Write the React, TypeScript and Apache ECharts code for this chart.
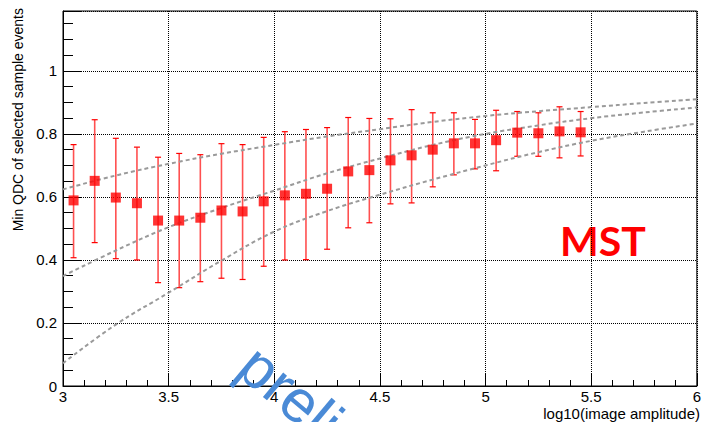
import React, { useEffect, useRef } from "react";
import * as echarts from "echarts";

const xCenters = [3.05, 3.15, 3.25, 3.35, 3.45, 3.55, 3.65, 3.75, 3.85, 3.95, 4.05, 4.15, 4.25, 4.35, 4.45, 4.55, 4.65, 4.75, 4.85, 4.95, 5.05, 5.15, 5.25, 5.35, 5.45];
const qdcValues = [0.589, 0.651, 0.598, 0.58, 0.525, 0.525, 0.534, 0.557, 0.554, 0.586, 0.605, 0.61, 0.626, 0.681, 0.685, 0.716, 0.732, 0.75, 0.77, 0.77, 0.78, 0.804, 0.802, 0.808, 0.805];
const errLow = [0.407, 0.455, 0.404, 0.4, 0.328, 0.312, 0.331, 0.342, 0.338, 0.38, 0.4, 0.401, 0.434, 0.502, 0.518, 0.578, 0.581, 0.632, 0.67, 0.689, 0.683, 0.729, 0.729, 0.724, 0.73];
const errHigh = [0.766, 0.845, 0.786, 0.758, 0.726, 0.738, 0.734, 0.769, 0.766, 0.789, 0.807, 0.814, 0.82, 0.852, 0.849, 0.848, 0.877, 0.867, 0.867, 0.846, 0.875, 0.871, 0.867, 0.886, 0.871];

const curveX = [3.0, 3.25, 3.5, 3.75, 4.0, 4.25, 4.5, 4.75, 5.0, 5.25, 5.5, 5.75, 6.0];
const upperCurve = [0.624, 0.668, 0.705, 0.737, 0.765, 0.792, 0.815, 0.838, 0.857, 0.872, 0.885, 0.898, 0.91];
const middleCurve = [0.349, 0.43, 0.504, 0.565, 0.62, 0.675, 0.722, 0.765, 0.8, 0.827, 0.85, 0.868, 0.884];
const lowerCurve = [0.072, 0.195, 0.296, 0.398, 0.49, 0.555, 0.607, 0.655, 0.7, 0.742, 0.778, 0.807, 0.833];

const yTitle = "Min QDC of selected sample events";
const xTitle = "log10(image amplitude)";
const labelText = "MST";
const watermark = "preliminary";

const FONT = "'Liberation Sans', Arial, Helvetica, sans-serif";

export default function App() {
  const ref = useRef<HTMLDivElement>(null);
  useEffect(() => {
    if (!ref.current) return;
    const chart = echarts.init(ref.current, null, { renderer: "svg" });
    const curveStyle = { color: "#9a9a9a", width: 2, type: [4, 3] as any };
    const mkCurve = (vals: number[]) => ({
      type: "line",
      data: curveX.map((x, i) => [x, vals[i]]),
      smooth: 0.4,
      symbol: "none",
      lineStyle: curveStyle,
      z: 4,
      silent: true,
    });
    chart.setOption({
      animation: false,
      grid: {
        left: 63,
        right: 6,
        top: 11,
        bottom: 36,
        show: true,
        borderColor: "#000",
        borderWidth: 1,
        backgroundColor: "#fff",
      },
      xAxis: {
        type: "value",
        min: 3,
        max: 6,
        interval: 0.5,
        axisLine: { show: true, lineStyle: { color: "#000", width: 1 } },
        axisTick: { show: true, inside: true, length: 12, lineStyle: { color: "#000" } },
        minorTick: { show: true, splitNumber: 5, length: 6, lineStyle: { color: "#000" } },
        splitLine: { show: true, lineStyle: { color: "#000", type: "dotted", width: 1 } },
        axisLabel: { color: "#000", fontSize: 15, fontFamily: FONT, margin: 3, lineHeight: 15 },
      },
      yAxis: {
        type: "value",
        min: 0,
        max: 1.19,
        interval: 0.2,
        axisLine: { show: true, lineStyle: { color: "#000", width: 1 } },
        axisTick: { show: true, inside: true, length: 18, lineStyle: { color: "#000" } },
        minorTick: { show: true, splitNumber: 4, length: 10, lineStyle: { color: "#000" } },
        splitLine: { show: true, lineStyle: { color: "#000", type: "dotted", width: 1 } },
        axisLabel: { color: "#000", fontSize: 15, fontFamily: FONT, margin: 6, showMaxLabel: false },
      },
      series: [
        {
          type: "custom",
          data: xCenters.map((x, i) => [x, errLow[i], errHigh[i]]),
          encode: { x: 0, y: [1, 2] },
          z: 3,
          renderItem: (params: any, api: any) => {
            const x = api.value(0);
            const p1 = api.coord([x, api.value(1)]);
            const p2 = api.coord([x, api.value(2)]);
            const w = 3;
            return {
              type: "group",
              children: [
                { type: "line", shape: { x1: p1[0], y1: p1[1], x2: p2[0], y2: p2[1] }, style: { stroke: "#ff5050", lineWidth: 1.6 } },
                { type: "line", shape: { x1: p1[0] - w, y1: p1[1], x2: p1[0] + w, y2: p1[1] }, style: { stroke: "#ff0000", lineWidth: 1.2 } },
                { type: "line", shape: { x1: p2[0] - w, y1: p2[1], x2: p2[0] + w, y2: p2[1] }, style: { stroke: "#ff0000", lineWidth: 1.2 } },
              ],
            };
          },
        },
        {
          type: "scatter",
          data: xCenters.map((x, i) => [x, qdcValues[i]]),
          symbol: "rect",
          symbolSize: 10,
          itemStyle: { color: "#ff0000" },
          z: 5,
        },
        mkCurve(upperCurve),
        mkCurve(middleCurve),
        mkCurve(lowerCurve),
      ],
      graphic: [
        {
          type: "text",
          x: 18,
          y: 8,
          rotation: Math.PI / 2,
          style: { text: yTitle, font: `14px ${FONT}`, fill: "#000", textAlign: "right", textVerticalAlign: "middle" },
        },
        {
          type: "text",
          x: 700,
          y: 421,
          style: { text: xTitle, font: `15px ${FONT}`, fill: "#000", textAlign: "right", textVerticalAlign: "bottom", lineHeight: 15 },
        },
        {
          type: "text",
          x: 560,
          y: 220,
          style: { text: labelText, font: `bold 41px Lato, 'Liberation Sans', sans-serif`, fill: "#ff0000", textAlign: "left", textVerticalAlign: "top" },
        },
        {
          type: "text",
          x: 228,
          y: 380,
          rotation: (-40 * Math.PI) / 180,
          z: 100,
          style: { text: watermark, font: `60px ${FONT}`, fill: "#4a8ad6", textAlign: "left", textVerticalAlign: "bottom" },
        },
      ],
    });
    return () => chart.dispose();
  }, []);
  return <div ref={ref} style={{ position: "absolute", left: 0, top: 0, width: 704, height: 422 }} />;
}
